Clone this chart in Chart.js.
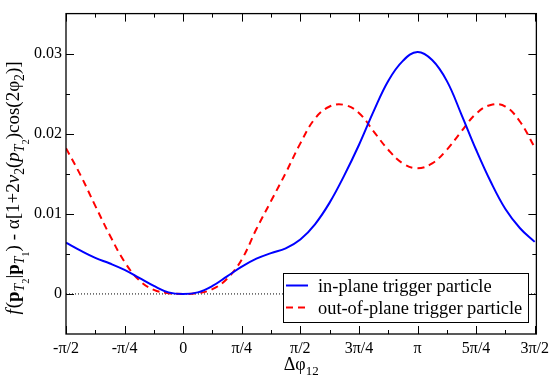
<!DOCTYPE html>
<html>
<head>
<meta charset="utf-8">
<script src="https://cdn.jsdelivr.net/npm/chart.js@4.4.1/dist/chart.umd.min.js"></script>
<style>
  html, body { margin: 0; padding: 0; background: #fff; }
  #myChart { display: block; }
</style>
</head>
<body>
<canvas id="myChart" width="554" height="378"></canvas>
<script>
const PI = Math.PI;
const SERIF = '"Liberation Serif", "Times New Roman", serif';

// azimuthal difference in units of pi/16
const phiSteps = [-8, -7, -6, -5, -4, -3, -2, -1, 0, 1, 2, 3, 4, 5, 6, 7, 8,
    9, 10, 11, 12, 13, 14, 15, 16, 17, 18, 19, 20, 21, 22, 23, 24];

const inPlane = [0.0064, 0.0054, 0.0045, 0.0038, 0.0030, 0.0020, 0.0010, 0.0002, 0.0000,
    0.0002, 0.0010, 0.0022, 0.0034, 0.0044, 0.0051, 0.0057, 0.0068,
    0.0087, 0.0114, 0.0148, 0.0186, 0.0228, 0.0266, 0.0291, 0.0302,
    0.0292, 0.0266, 0.0224, 0.0180, 0.0140, 0.0106, 0.0082, 0.0065];

const outOfPlane = [0.0182, 0.0148, 0.0110, 0.0073, 0.0040, 0.0017, 0.0005, 0.0001, 0.0000,
    0.0001, 0.0006, 0.0019, 0.0043, 0.0081, 0.0116, 0.0151, 0.0188,
    0.0219, 0.0234, 0.0236, 0.0226, 0.0203, 0.0180, 0.0163, 0.0157,
    0.0163, 0.0180, 0.0203, 0.0225, 0.0236, 0.0234, 0.0215, 0.0183];

const seriesLabels = ["in-plane trigger particle", "out-of-plane trigger particle"];
const xTickLabels = ["-\u03c0/2", "-\u03c0/4", "0", "\u03c0/4", "\u03c0/2", "3\u03c0/4", "\u03c0", "5\u03c0/4", "3\u03c0/2"];
const xTickSteps = [-2, -1, 0, 1, 2, 3, 4, 5, 6]; // units of pi/4
const yTickValues = [0, 0.01, 0.02, 0.03];

const xMin = -PI / 2;
const xMax = 4.735;

function toPoints(vals) {
    return phiSteps.map((k, i) => ({ x: k * PI / 16, y: vals[i] }));
}

// draw a list of text runs along a baseline, returns total width
function drawRuns(ctx, runs, size, x0, y0, measureOnly) {
    let x = x0;
    runs.forEach(r => {
        const s = size * (r.scale || 1);
        ctx.font = (r.style || "") + " " + s + "px " + SERIF;
        if (!measureOnly) ctx.fillText(r.t, x, y0 + (r.dy || 0) * size);
        x += ctx.measureText(r.t).width + (r.gap || 0);
    });
    return x - x0;
}

const sub = (t, style) => ({ t: t, style: style || "", scale: 0.72, dy: 0.28 });
const subsub = t => ({ t: t, scale: 0.55, dy: 0.5 });

const yTitleRuns = [
    { t: "f", style: "italic", gap: 1 }, { t: "(" }, { t: "p", style: "bold" },
    sub("T", "italic"), subsub("2"), { t: "|" }, { t: "p", style: "bold" },
    sub("T", "italic"), subsub("1"), { t: ") - \u03b1[1+2" }, { t: "v", style: "italic" },
    sub("2"), { t: "(" }, { t: "p", style: "italic" }, sub("T", "italic"), subsub("2"),
    { t: ")cos(2\u03c6" }, sub("2"), { t: ")]" }
];
const xTitleRuns = [{ t: "\u0394\u03c6" }, { t: "12", scale: 0.72, dy: 0.28 }];

const framePlugin = {
    id: "frame",
    afterDraw(chart) {
        const ctx = chart.ctx;
        const a = chart.chartArea;
        const xs = chart.scales.x, ys = chart.scales.y;
        ctx.save();
        ctx.strokeStyle = "#000";
        ctx.lineWidth = 1;
        ctx.beginPath();
        // x ticks every pi/8, major every pi/4
        for (let k = -4; k <= 12; k++) {
            const px = Math.round(xs.getPixelForValue(k * PI / 8)) + 0.5;
            const len = k % 2 === 0 ? 8 : 4;
            ctx.moveTo(px, a.bottom); ctx.lineTo(px, a.bottom - len);
            ctx.moveTo(px, a.top); ctx.lineTo(px, a.top + len);
        }
        // y ticks every 0.005, major every 0.01
        for (let j = 0; j <= 6; j++) {
            const py = Math.round(ys.getPixelForValue(j * 0.005)) + 0.5;
            const len = j % 2 === 0 ? 8 : 4;
            ctx.moveTo(a.left, py); ctx.lineTo(a.left + len, py);
            ctx.moveTo(a.right, py); ctx.lineTo(a.right - len, py);
        }
        ctx.stroke();
        ctx.lineWidth = 1.3;
        ctx.strokeRect(a.left, a.top, a.right - a.left, a.bottom - a.top);

        // legend
        const lx = 283, ly = 273, lw = 245, lh = 49;
        ctx.fillStyle = "#fff";
        ctx.fillRect(lx, ly, lw, lh);
        ctx.lineWidth = 1;
        ctx.strokeRect(lx + 0.5, ly + 0.5, lw, lh);
        const ds = chart.data.datasets;
        [0, 1].forEach(i => {
            const cy = ly + 12.5 + i * 22;
            ctx.strokeStyle = ds[i].borderColor;
            ctx.lineWidth = 2;
            ctx.setLineDash(ds[i].borderDash || []);
            ctx.beginPath();
            ctx.moveTo(lx + 3, cy); ctx.lineTo(lx + 25, cy);
            ctx.stroke();
            ctx.setLineDash([]);
            ctx.fillStyle = "#000";
            ctx.font = "18.4px " + SERIF;
            ctx.textBaseline = "alphabetic";
            ctx.textAlign = "left";
            ctx.fillText(ds[i].label, lx + 35, cy + 6);
        });

        // axis titles
        ctx.fillStyle = "#000";
        ctx.textAlign = "left";
        ctx.textBaseline = "alphabetic";
        const wx = drawRuns(ctx, xTitleRuns, 18, 0, 0, true);
        drawRuns(ctx, xTitleRuns, 18, (a.left + a.right) / 2 - wx / 2, 370, false);
        ctx.translate(19, 188);
        ctx.rotate(-PI / 2);
        const wy = drawRuns(ctx, yTitleRuns, 19, 0, 0, true);
        drawRuns(ctx, yTitleRuns, 19, -wy / 2, 0, false);
        ctx.restore();
    }
};

const ctx = document.getElementById("myChart").getContext("2d");
const myChart = new Chart(ctx, {
    type: "line",
    data: {
        datasets: [
            {
                label: seriesLabels[0],
                data: toPoints(inPlane),
                borderColor: "#0000ff",
                borderWidth: 2,
                tension: 0.4,
                pointRadius: 0
            },
            {
                label: seriesLabels[1],
                data: toPoints(outOfPlane),
                borderColor: "#ff0000",
                borderWidth: 2,
                borderDash: [7, 5],
                tension: 0.4,
                pointRadius: 0
            },
            {
                label: "zero",
                data: [{ x: xMin, y: 0 }, { x: xMax, y: 0 }],
                borderColor: "#000",
                borderWidth: 1,
                borderDash: [1, 2],
                pointRadius: 0
            }
        ]
    },
    options: {
        responsive: false,
        animation: false,
        devicePixelRatio: 1,
        layout: { padding: { top: 4, right: 15, left: 0, bottom: 0 } },
        plugins: {
            legend: { display: false },
            tooltip: { enabled: false }
        },
        scales: {
            x: {
                type: "linear",
                min: xMin,
                max: xMax,
                grid: { display: false, drawTicks: false },
                border: { display: false },
                afterBuildTicks: s => { s.ticks = xTickSteps.map(k => ({ value: k * PI / 4 })); },
                afterFit: s => { s.height = 44; },
                ticks: {
                    autoSkip: false,
                    maxRotation: 0,
                    padding: 5,
                    color: "#000",
                    font: { family: SERIF, size: 16 },
                    callback: (v, i) => xTickLabels[i]
                }
            },
            y: {
                min: -0.005,
                max: 0.035,
                grid: { display: false, drawTicks: false },
                border: { display: false },
                afterBuildTicks: s => { s.ticks = yTickValues.map(v => ({ value: v })); },
                afterFit: s => { s.width = 66; },
                ticks: {
                    padding: 4,
                    color: "#000",
                    font: { family: SERIF, size: 16 },
                    callback: v => v === 0 ? "0" : v.toFixed(2)
                }
            }
        }
    },
    plugins: [framePlugin]
});
</script>
</body>
</html>
